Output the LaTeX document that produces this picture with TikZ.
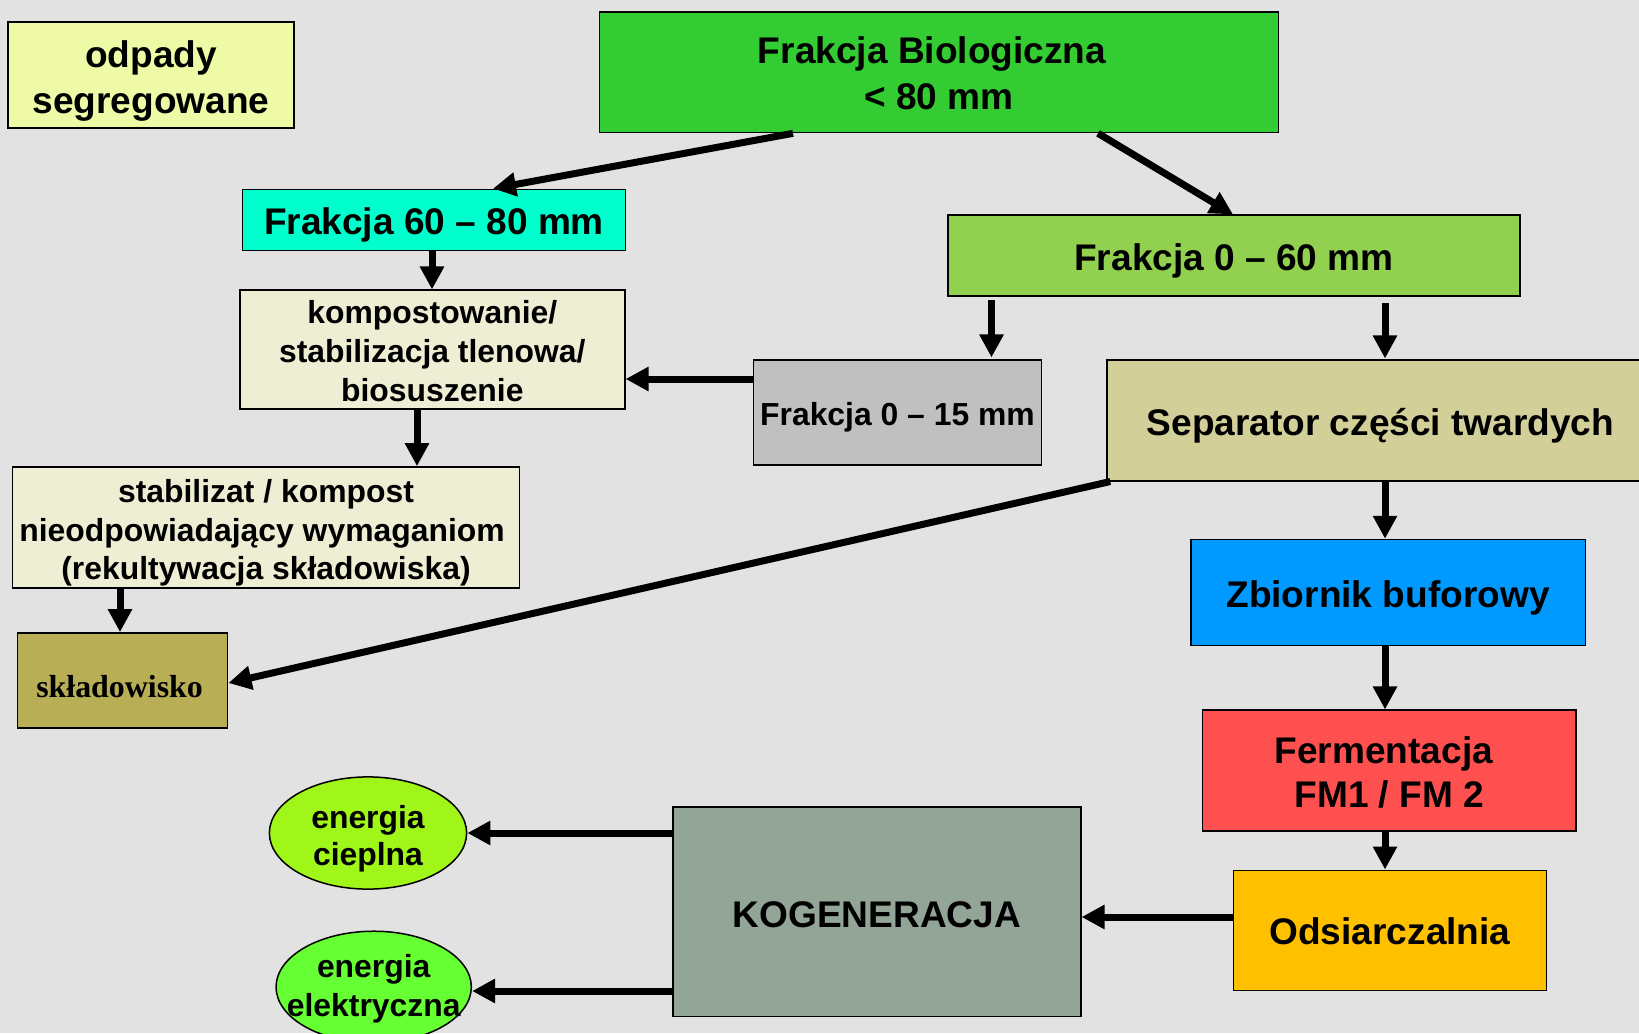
\documentclass[tikz,border=0pt]{standalone}
\usepackage{fontspec}
\setmainfont{Liberation Sans}
\newfontfamily\timesfont{Liberation Serif}
\usetikzlibrary{arrows.meta,shapes.geometric}
\definecolor{bg}{RGB}{226,226,226}
\definecolor{codp}{RGB}{238,250,165}
\definecolor{cbio}{RGB}{51,204,51}
\definecolor{caqua}{RGB}{0,255,204}
\definecolor{cbeige}{RGB}{238,238,212}
\definecolor{cf060}{RGB}{146,208,80}
\definecolor{cgray}{RGB}{192,192,192}
\definecolor{csep}{RGB}{211,207,153}
\definecolor{cskl}{RGB}{183,174,85}
\definecolor{czb}{RGB}{0,153,255}
\definecolor{cferm}{RGB}{255,80,80}
\definecolor{cods}{RGB}{255,192,0}
\definecolor{ckog}{RGB}{147,165,151}
\definecolor{cciep}{RGB}{160,245,25}
\definecolor{celek}{RGB}{102,255,51}
% box text: lowered by #1, natural size kept for centring
\newcommand{\bt}[2]{\raisebox{-#1}[\height][\depth]{\begin{tabular}{@{}c@{}}#2\end{tabular}}}
\newcommand{\bz}[2]{\makebox[0pt]{\bt{#1}{#2}}}
\begin{document}
\begin{tikzpicture}[x=1bp,y=-1bp,
  box/.style={draw=black, line width=1.5bp, inner sep=0pt},
  big/.style={font={\fontsize{37.2}{45}\selectfont\bfseries}},
  bigw/.style={font={\fontsize{37.2}{46}\selectfont\bfseries}},
  mid/.style={font={\fontsize{32}{37.5}\selectfont\bfseries}},
  oval/.style={box, ellipse},
  arr/.style={line width=7bp, -{Triangle[length=23bp,width=23bp]}}]
\fill[bg] (0,0) rectangle (1639,1033);
\useasboundingbox (0,0) rectangle (1639,1033);

\node[box,bigw,fill=codp,minimum width=287,minimum height=106] (odp) at (151,75) {\bt{6bp}{odpady\\segregowane}};
\node[box,bigw,fill=cbio,minimum width=682,minimum height=121] (bio) at (939,72.3) {\bt{5bp}{Frakcja Biologiczna\hspace*{14bp}\\< 80 mm}};
\node[box,big,fill=caqua,minimum width=384,minimum height=61.5] (f6080) at (434,220) {\bt{5.5bp}{Frakcja 60 -- 80 mm}};
\node[box,fill=cbeige,minimum width=386.5,minimum height=119,font={\fontsize{32}{39}\selectfont\bfseries}] (komp) at (432.3,349.5) {\bt{5.5bp}{kompostowanie/\\stabilizacja tlenowa/\\biosuszenie}};
\node[box,fill=cbeige,minimum width=509,minimum height=121.6,font={\fontsize{32}{38.4}\selectfont\bfseries}] (stab) at (266,527.5) {\bt{6bp}{stabilizat / kompost\\nieodpowiadający wymaganiom\hspace*{8bp}\\(rekultywacja składowiska)}};
\node[box,big,fill=cf060,minimum width=574,minimum height=81] (f060) at (1234,255.5) {\bt{5.7bp}{Frakcja 0 -- 60 mm}};
\node[box,mid,fill=cgray,minimum width=289,minimum height=105] (f015) at (897.5,412.5) {\bt{6bp}{Frakcja 0 -- 15 mm}};
\node[box,big,fill=csep,minimum width=549,minimum height=121] (sep) at (1380.5,420.5) {\bt{5.7bp}{Separator części twardych}};
\node[box,fill=cskl,minimum width=211,minimum height=95.6,font={\fontsize{32}{36}\selectfont\timesfont\bfseries}] (skl) at (122.6,680.5) {\bt{9.5bp}{składowisko\hspace*{6bp}}};
\node[box,big,fill=czb,minimum width=396,minimum height=106.4] (zb) at (1388,592.5) {\bt{5.7bp}{Zbiornik buforowy}};
\node[box,big,fill=cferm,minimum width=375,minimum height=121] (ferm) at (1389.3,770.5) {\bt{6bp}{Fermentacja\hspace*{11bp}\\FM1 / FM 2}};
\node[box,big,fill=cods,minimum width=314,minimum height=120.7] (ods) at (1390,930.4) {\bt{5.3bp}{Odsiarczalnia}};
\node[box,big,fill=ckog,minimum width=409.5,minimum height=210.6] (kog) at (876.8,911.8) {\bt{6.5bp}{KOGENERACJA}};
\node[oval,fill=cciep,minimum width=198,minimum height=112.6,font={\fontsize{32}{37.5}\selectfont\bfseries}] (ciep) at (368,833) {\bz{6.3bp}{energia\\cieplna}};
\node[oval,fill=celek,minimum width=196,minimum height=112,font={\fontsize{32}{38.7}\selectfont\bfseries}] (elek) at (373.7,987) {\bz{2bp}{energia\\elektryczna}};

\draw[arr] (bio.south -| 793,0) -- (f6080.north -| 493,0);
\draw[arr] (bio.south -| 1098,0) -- (f060.north -| 1233,0);
\draw[arr] (f6080.south -| 432,0) -- (komp.north -| 432,0);
\draw[arr] (f015.west |- 0,379) -- (komp.east |- 0,379);
\draw[arr] (komp.south -| 417,0) -- (stab.north -| 417,0);
\draw[arr] ([yshift=-3bp]f060.south -| 991.5,0) -- ([yshift=2bp]f015.north -| 991.5,0);
\draw[arr] ([yshift=-6bp]f060.south -| 1385,0) -- ([yshift=1bp]sep.north -| 1385,0);
\draw[arr] (stab.south -| 120,0) -- (skl.north -| 120,0);
\draw[arr] ([xshift=4bp]sep.south west) -- (skl.east |- 0,683);
\draw[arr] (sep.south -| 1385,0) -- (zb.north -| 1385,0);
\draw[arr] (zb.south -| 1385,0) -- (ferm.north -| 1385,0);
\draw[arr] (ferm.south -| 1385,0) -- (ods.north -| 1385,0);
\draw[arr] (ods.west |- 0,917) -- (kog.east |- 0,917);
\draw[arr] (kog.west |- ciep.east) -- (ciep.east);
\draw[arr] (kog.west |- 0,991) -- (elek.east |- 0,991);
\end{tikzpicture}
\end{document}
